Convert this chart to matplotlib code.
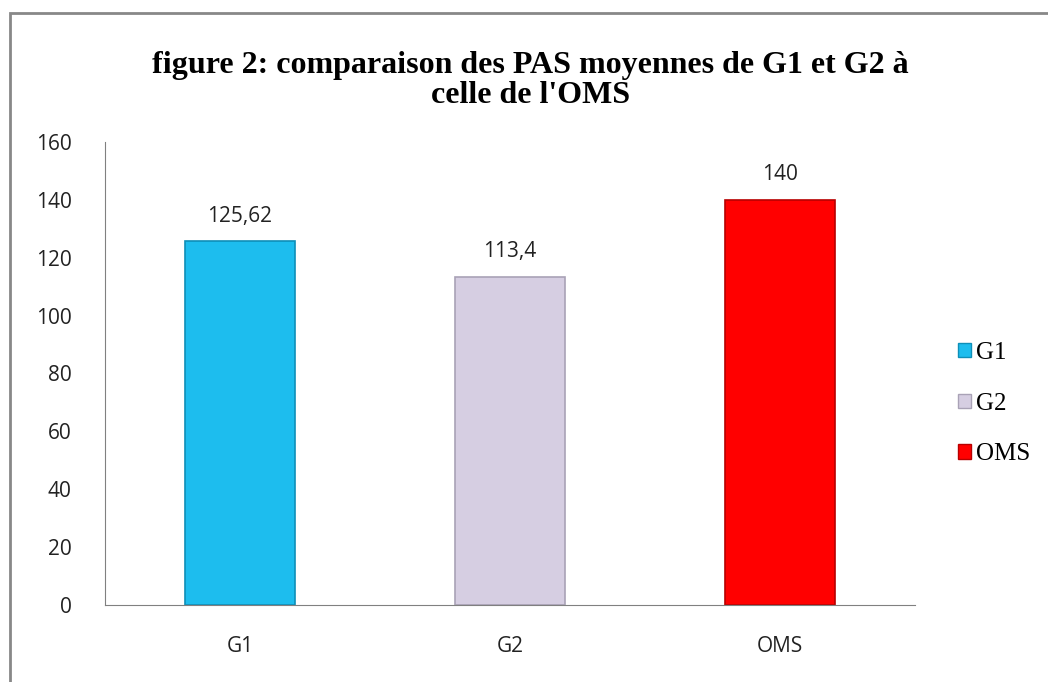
import matplotlib.pyplot as plt
from matplotlib.patches import Rectangle

categories = ["G1", "G2", "OMS"]
values = [125.62, 113.4, 140]
labels = ["125,62", "113,4", "140"]
colors = ["#1DBDEE", "#D6CEE2", "#FF0000"]
edges = ["#0E8FB8", "#A9A2B6", "#B80000"]
yticks = [0, 20, 40, 60, 80, 100, 120, 140, 160]

fig = plt.figure(figsize=(10.48, 6.82), dpi=100)
ax = fig.add_axes([0.1002, 0.1129, 0.7729, 0.6789])

x = range(len(categories))
bars = ax.bar(x, values, width=0.41, color=colors, edgecolor=edges, linewidth=1.2,
              label=categories)

for xi, v, t in zip(x, values, labels):
    ax.text(xi, v + 5, t, ha="center", va="bottom", fontsize=15,
            family="Open Sans", color="#222222")

ax.set_xlim(-0.5, 2.5)
ax.set_ylim(0, 160)
ax.set_yticks(yticks)
ax.set_xticks(list(x))
ax.set_xticklabels(categories, family="Open Sans", fontsize=15)
for lab in ax.get_yticklabels():
    lab.set_family("Open Sans")
    lab.set_fontsize(15)
ax.tick_params(axis="y", length=0, pad=24, colors="#222222")
ax.tick_params(axis="x", length=0, pad=22, colors="#222222")
for s in ["top", "right"]:
    ax.spines[s].set_visible(False)
ax.spines["left"].set_color("#808080")
ax.spines["bottom"].set_color("#808080")

fig.text(0.506, 0.882, "figure 2: comparaison des PAS moyennes de G1 et G2 à\ncelle de l'OMS",
         ha="center", va="center", family="Liberation Serif", fontweight="bold",
         fontsize=23, linespacing=1.05)

handles = [Rectangle((0, 0), 1, 1, facecolor=c, edgecolor=e) for c, e in zip(colors, edges)]
leg = fig.legend(handles, categories, loc="center left", bbox_to_anchor=(0.893, 0.408),
                 frameon=False, prop={"family": "Liberation Serif", "size": 18},
                 handlelength=0.5, handleheight=0.5, handletextpad=0.2, labelspacing=1.15)

fig.patches.append(Rectangle((0.0095, -0.01), 1.0, 0.991, transform=fig.transFigure,
                             fill=False, edgecolor="#888888", linewidth=2))

fig.savefig("out.png", dpi=100)
